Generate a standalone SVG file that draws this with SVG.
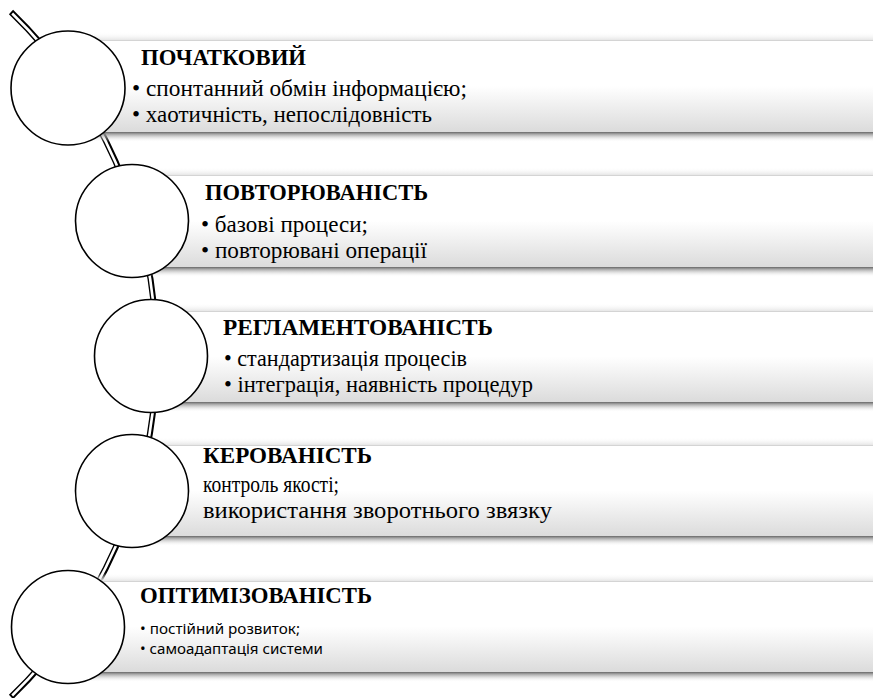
<svg xmlns="http://www.w3.org/2000/svg" width="873" height="698" viewBox="0 0 873 698">
<defs>
<linearGradient id="band" x1="0" y1="0" x2="0" y2="1">
<stop offset="0" stop-color="#ffffff"/>
<stop offset="0.5" stop-color="#ffffff"/>
<stop offset="1" stop-color="#dbdbdb"/>
</linearGradient>
<linearGradient id="shadow" x1="0" y1="0" x2="0" y2="1">
<stop offset="0" stop-color="#666666" stop-opacity="1"/>
<stop offset="0.25" stop-color="#9a9a9a" stop-opacity="0.8"/>
<stop offset="1" stop-color="#ffffff" stop-opacity="0"/>
</linearGradient>
<linearGradient id="above" x1="0" y1="0" x2="0" y2="1">
<stop offset="0" stop-color="#ffffff" stop-opacity="0"/>
<stop offset="1" stop-color="#e6e6e6" stop-opacity="1"/>
</linearGradient>
</defs>
<style>
.band{fill:url(#band);}
.edge{stroke:#d4d4d4;stroke-width:1;}
.sh{fill:url(#shadow);}
.ab{fill:url(#above);}
.circ{fill:#ffffff;stroke:#000000;stroke-width:1.6;}
.h{font-family:"Liberation Serif","Times New Roman",serif;font-weight:bold;font-size:23px;fill:#000;}
.t{font-family:"Liberation Serif","Times New Roman",serif;font-size:23.5px;fill:#000;}
.s{font-family:"Noto Sans","Open Sans",sans-serif;font-size:14.5px;fill:#000;}
.cOut{fill:none;stroke:#000;stroke-width:6;}
.cIn{fill:none;stroke:#fff;stroke-width:2.6;}
</style>
<rect width="873" height="698" fill="#ffffff"/>
<g id="connectors">
<path class="cOut" d="M 11,12 A 476 476 0 0 1 11,697"/>
<path class="cIn" d="M 12.2,13.5 A 476 476 0 0 1 12.2,695.5"/>
</g>
<g id="node1">
<rect class="ab" x="68" y="32" width="805" height="8"/>
<rect class="band" x="68" y="40" width="805" height="92"/>
<line class="edge" x1="68" y1="40.5" x2="873" y2="40.5"/>
<rect class="sh" x="68" y="132" width="805" height="10"/>
<circle class="circ" cx="68" cy="88" r="57"/>
<text class="h" x="141" y="65" textLength="165" lengthAdjust="spacingAndGlyphs">ПОЧАТКОВИЙ</text>
<text class="t" x="132" y="96" textLength="335" lengthAdjust="spacingAndGlyphs">• спонтанний обмін інформацією;</text>
<text class="t" x="132" y="122" textLength="300" lengthAdjust="spacingAndGlyphs">• хаотичність, непослідовність</text>
</g>
<g id="node2">
<rect class="ab" x="132" y="167" width="741" height="8"/>
<rect class="band" x="132" y="175" width="741" height="92"/>
<line class="edge" x1="132" y1="175.5" x2="873" y2="175.5"/>
<rect class="sh" x="132" y="267" width="741" height="10"/>
<circle class="circ" cx="132" cy="221" r="56.5"/>
<text class="h" x="205" y="200" textLength="223" lengthAdjust="spacingAndGlyphs">ПОВТОРЮВАНІСТЬ</text>
<text class="t" x="201" y="232" textLength="167" lengthAdjust="spacingAndGlyphs">• базові процеси;</text>
<text class="t" x="201" y="258" textLength="226" lengthAdjust="spacingAndGlyphs">• повторювані операції</text>
</g>
<g id="node3">
<rect class="ab" x="151" y="303" width="722" height="8"/>
<rect class="band" x="151" y="311" width="722" height="91"/>
<line class="edge" x1="151" y1="311.5" x2="873" y2="311.5"/>
<rect class="sh" x="151" y="402" width="722" height="10"/>
<circle class="circ" cx="151" cy="356" r="56.5"/>
<text class="h" x="223" y="335" textLength="270" lengthAdjust="spacingAndGlyphs">РЕГЛАМЕНТОВАНІСТЬ</text>
<text class="t" x="224" y="366" textLength="243" lengthAdjust="spacingAndGlyphs">• стандартизація процесів</text>
<text class="t" x="224" y="392" textLength="309" lengthAdjust="spacingAndGlyphs">• інтеграція, наявність процедур</text>
</g>
<g id="node4">
<rect class="ab" x="132" y="437" width="741" height="8"/>
<rect class="band" x="132" y="445" width="741" height="91"/>
<line class="edge" x1="132" y1="445.5" x2="873" y2="445.5"/>
<rect class="sh" x="132" y="536" width="741" height="10"/>
<circle class="circ" cx="132" cy="491" r="56.5"/>
<text class="h" x="203" y="463" textLength="169" lengthAdjust="spacingAndGlyphs">КЕРОВАНІСТЬ</text>
<text class="t" x="203" y="492" textLength="136" lengthAdjust="spacingAndGlyphs">контроль якості;</text>
<text class="t" x="203" y="518" textLength="349" lengthAdjust="spacingAndGlyphs">використання зворотнього звязку</text>
</g>
<g id="node5">
<rect class="ab" x="68" y="573" width="805" height="8"/>
<rect class="band" x="68" y="581" width="805" height="91"/>
<line class="edge" x1="68" y1="581.5" x2="873" y2="581.5"/>
<rect class="sh" x="68" y="672" width="805" height="10"/>
<circle class="circ" cx="68" cy="627" r="56.5"/>
<text class="h" x="140" y="603" textLength="232" lengthAdjust="spacingAndGlyphs">ОПТИМІЗОВАНІСТЬ</text>
<text class="s" x="140" y="634" textLength="160" lengthAdjust="spacingAndGlyphs">• постійний розвиток;</text>
<text class="s" x="140" y="654" textLength="183" lengthAdjust="spacingAndGlyphs">• самоадаптація системи</text>
</g>
</svg>
